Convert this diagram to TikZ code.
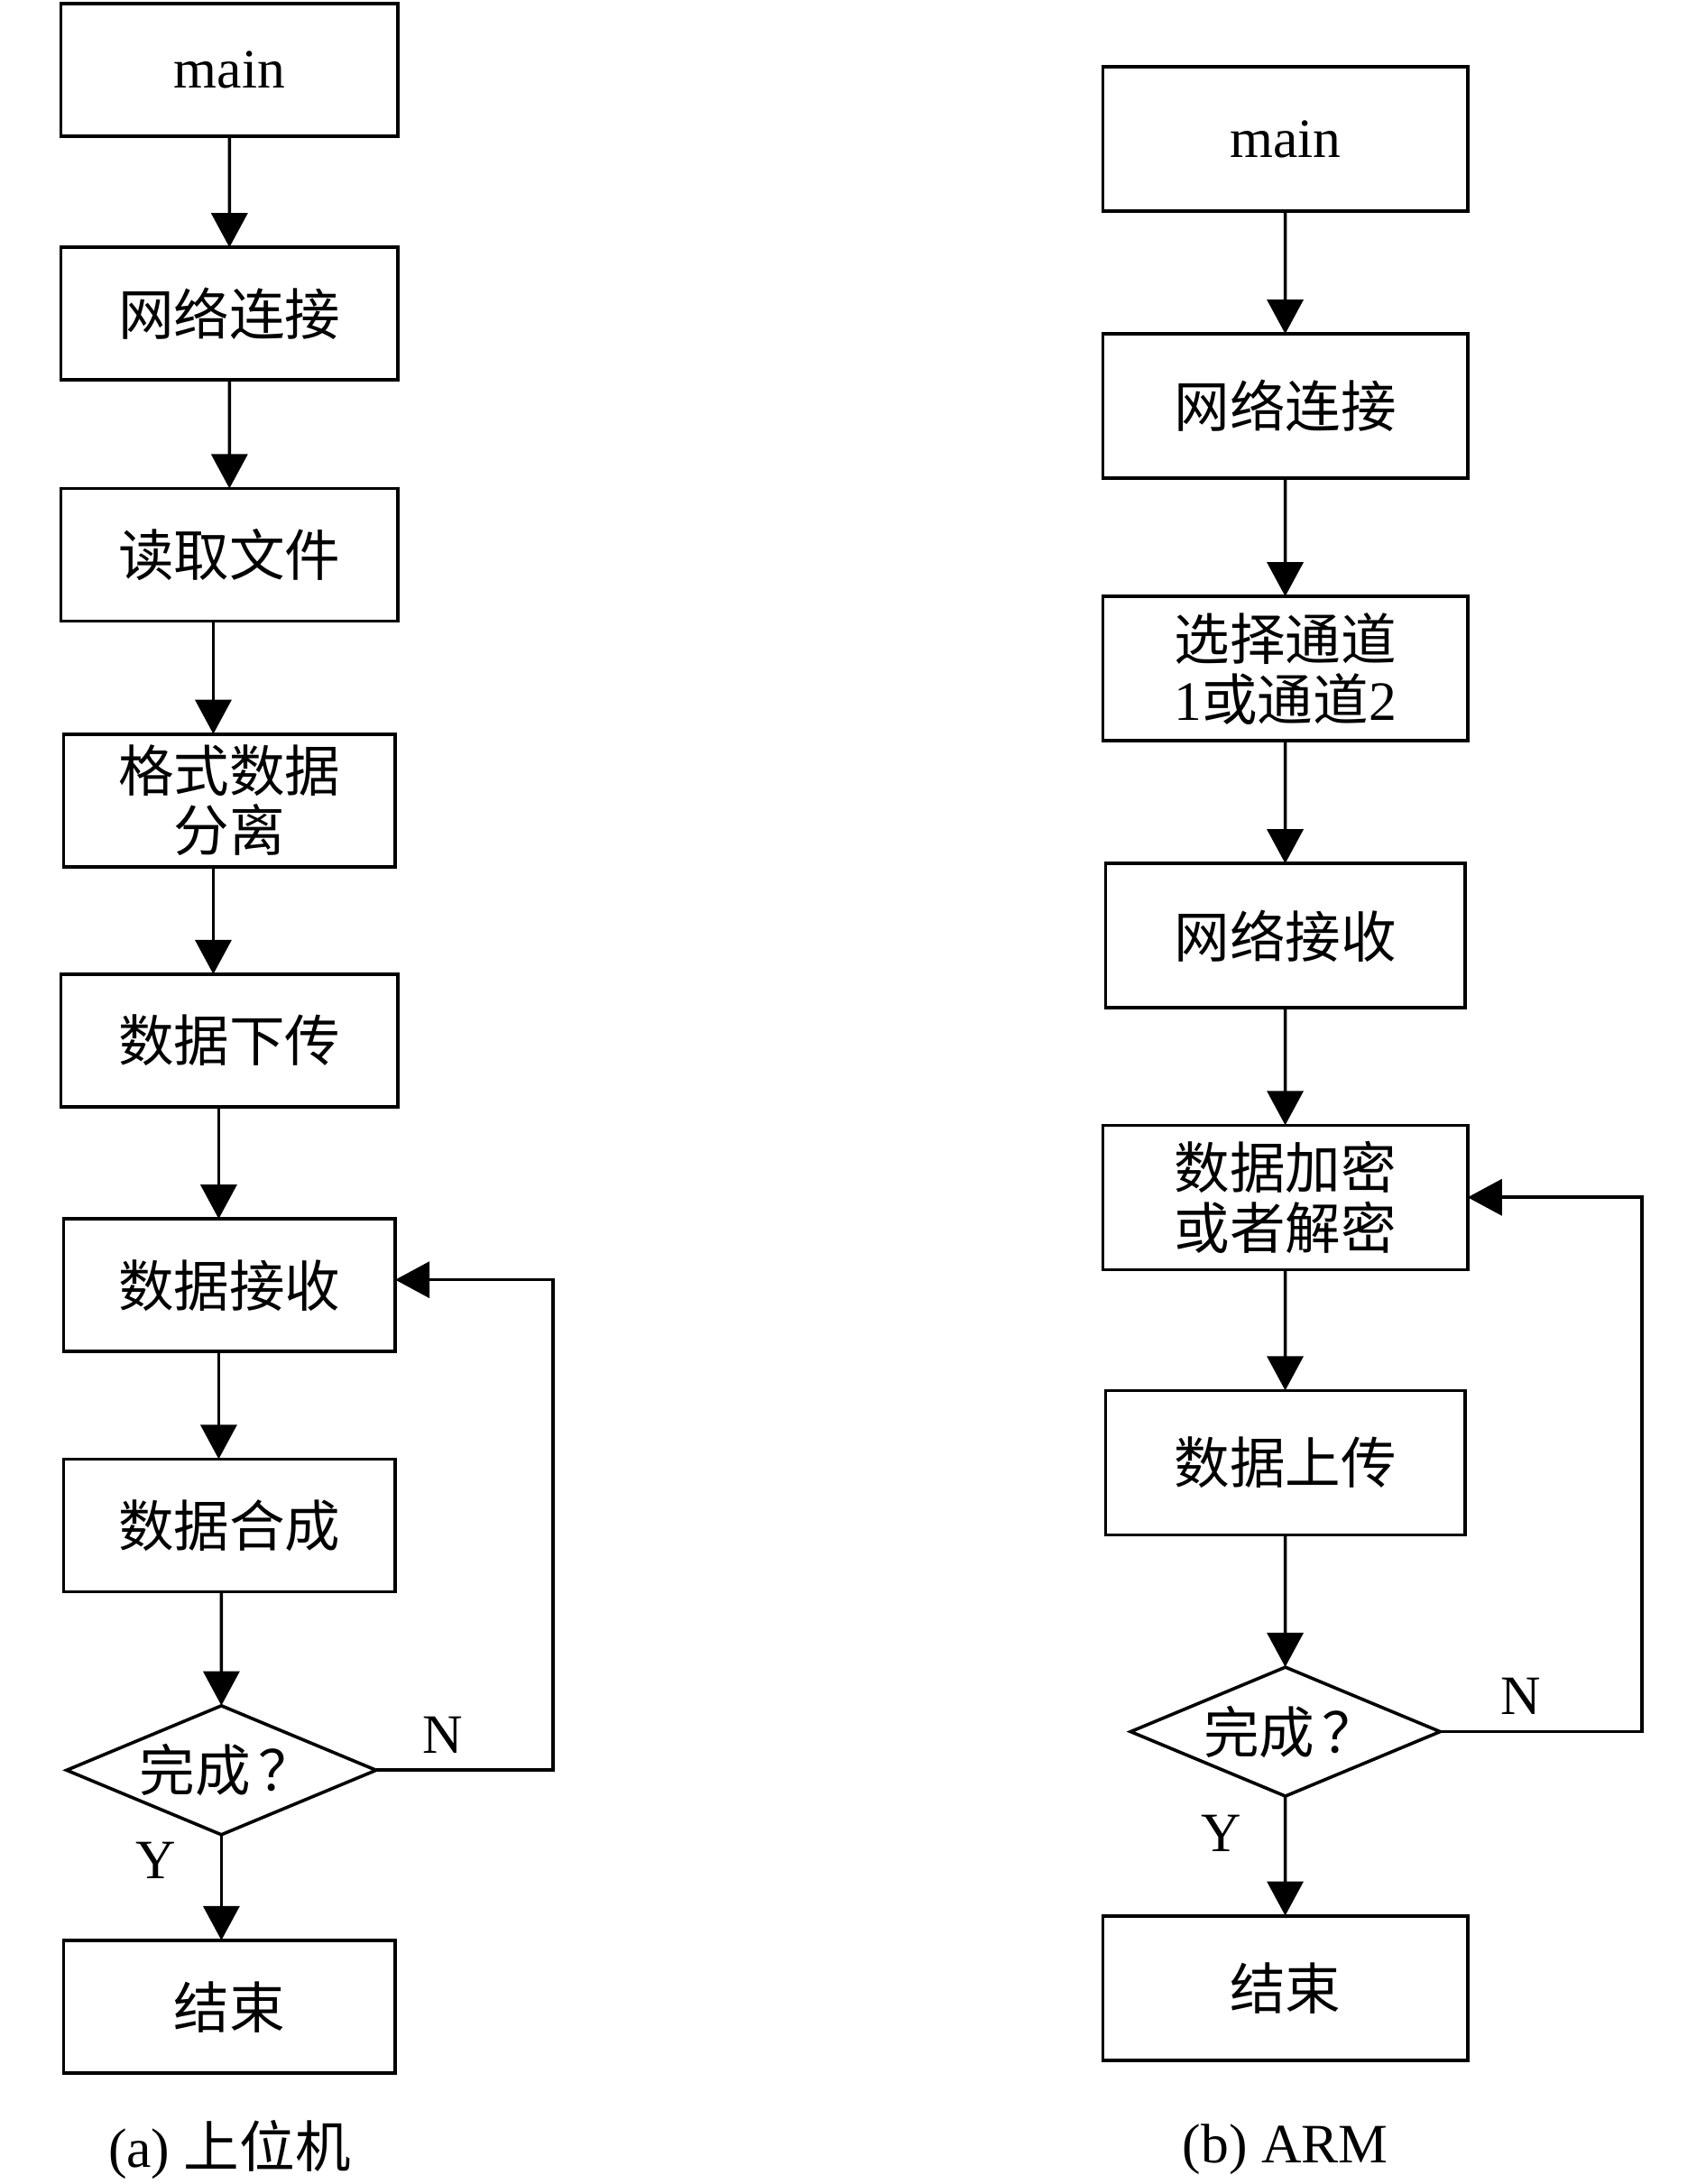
\documentclass[tikz,border=0pt]{standalone}
\usepackage{fontspec}
\setmainfont{Liberation Serif}
\newfontfamily\cjkfont{Noto Sans CJK SC}
\newcommand\zhtext[1]{{\cjkfont #1}}
\usetikzlibrary{shapes.geometric,arrows.meta}
\begin{document}
\begin{tikzpicture}[x=0.25pt,y=-0.25pt,scale=0.99354,
  every node/.style={font=\fontsize{15.5pt}{16.8pt}\selectfont,transform shape},
  box/.style={draw,line width=0.9pt,inner sep=0pt,outer sep=0pt,align=center},
  bl/.style={box,minimum width=94pt,minimum height=37pt},
  bln/.style={box,minimum width=92.5pt,minimum height=37pt},
  br/.style={box,minimum width=101.75pt,minimum height=40.25pt},
  brn/.style={box,minimum width=100.25pt,minimum height=40.25pt},
  dia/.style={draw,diamond,aspect=2.4,inner sep=0pt,outer sep=0pt,line width=0.9pt,
    minimum width=86pt,minimum height=35.75pt},
  arr/.style={line width=0.9pt,-{Triangle[width=10pt,length=9.5pt]}},
  lbl/.style={inner sep=0pt}]
\useasboundingbox (0,0) rectangle (1902.3,2436.7);
% ---------- left column ----------
\node[bl]  (a1) at (256,78)   {main};
\node[bl]  (a2) at (256,350)  {\zhtext{网络连接}};
\node[bl]  (a3) at (256,619)  {\zhtext{读取文件}};
\node[bln] (a4) at (256,893)  {\zhtext{格式数据}\\\zhtext{分离}};
\node[bl]  (a5) at (256,1161) {\zhtext{数据下传}};
\node[bln] (a6) at (256,1434) {\zhtext{数据接收}};
\node[bln] (a7) at (256,1702) {\zhtext{数据合成}};
\node[dia] (a8) at (247,1975) {\hspace{3pt}\zhtext{完成}\hspace{2pt}\zhtext{？}};
\node[bln] (a9) at (256,2239) {\zhtext{结束}};
\coordinate (la) at (617,1428);
\draw[arr] (a1) -- (a2);
\draw[arr] (a2) -- (a3);
\draw[arr] ([xshift=-4.5pt]a3.south) -- ([xshift=-4.5pt]a4.north);
\draw[arr] ([xshift=-4.5pt]a4.south) -- ([xshift=-4.5pt]a5.north);
\draw[arr] ([xshift=-3pt]a5.south) -- ([xshift=-3pt]a6.north);
\draw[arr] ([xshift=-3pt]a6.south) -- ([xshift=-3pt]a7.north);
\draw[arr] ([xshift=-2.25pt]a7.south) -- (a8.north);
\draw[arr] (a8.south) -- (a8.south |- a9.north);
\draw[arr] (a8.east) -| (la) -- (la -| a6.east);
\node[lbl] (ln) at (494,1936) {N};
\node[lbl] (ly) at (174,2076) {Y};
\node (ca) at (256,2398) {(a) \zhtext{上位机}};
% ---------- right column ----------
\node[br]  (b1) at (1434,155)  {main};
\node[br]  (b2) at (1434,453)  {\zhtext{网络连接}};
\node[br]  (b3) at (1434,746)  {\zhtext{选择通道}\\1\zhtext{或通道}2};
\node[brn] (b4) at (1434,1044) {\zhtext{网络接收}};
\node[br]  (b5) at (1434,1336) {\zhtext{数据加密}\\\zhtext{或者解密}};
\node[brn] (b6) at (1434,1632) {\zhtext{数据上传}};
\node[dia] (b7) at (1434,1932) {\hspace{3pt}\zhtext{完成}\hspace{2pt}\zhtext{？}};
\node[br]  (b8) at (1434,2218) {\zhtext{结束}};
\coordinate (lb) at (1832,1336);
\draw[arr] (b1) -- (b2);
\draw[arr] (b2) -- (b3);
\draw[arr] (b3) -- (b4);
\draw[arr] (b4) -- (b5);
\draw[arr] (b5) -- (b6);
\draw[arr] (b6) -- (b7);
\draw[arr] (b7) -- (b8);
\draw[arr] (b7.east) -| (lb) -- (b5.east);
\node[lbl] (rn) at (1697,1893) {N};
\node[lbl] (ry) at (1363,2045) {Y};
\node (cb) at (1434,2398) {(b) ARM};
\end{tikzpicture}
\end{document}
